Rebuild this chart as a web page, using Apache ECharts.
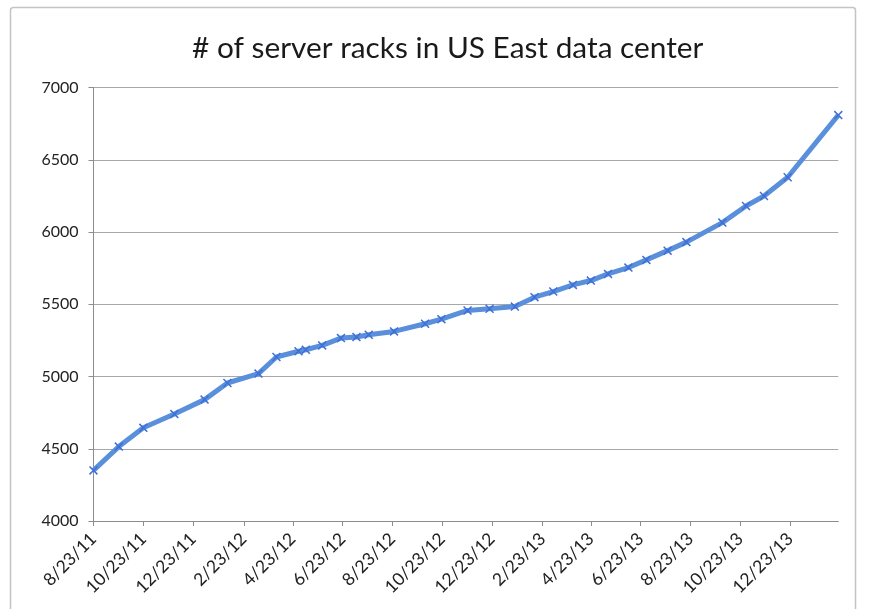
<!DOCTYPE html>
<html>
<head>
<meta charset="utf-8">
<script src="https://cdn.jsdelivr.net/npm/echarts@6/dist/echarts.min.js"></script>
<style>
  html, body { margin: 0; padding: 0; background: #fff; }
  #chart { width: 869px; height: 609px; }
</style>
</head>
<body>
<div id="chart"></div>
<script>
// Survey dates (M/D/YY) and rack counts
const surveyDates = [
  '8/23/11', '9/23/11', '10/23/11', '11/30/11', '1/6/12', '2/3/12', '3/12/12',
  '4/3/12', '4/30/12', '5/9/12', '5/29/12', '6/21/12', '7/10/12', '7/25/12',
  '8/25/12', '10/2/12', '10/22/12', '11/23/12', '12/20/12', '1/20/13', '2/13/13',
  '3/8/13', '4/1/13', '4/23/13', '5/14/13', '6/8/13', '6/30/13', '7/26/13',
  '8/18/13', '10/1/13', '10/30/13', '11/21/13', '12/20/13', '2/20/14'
];
const serverRacks = [
  4350, 4515, 4645, 4740, 4840, 4955, 5020,
  5135, 5175, 5185, 5215, 5266, 5273, 5289,
  5312, 5365, 5397, 5457, 5469, 5484, 5549,
  5588, 5634, 5664, 5710, 5754, 5807, 5871,
  5930, 6065, 6180, 6249, 6379, 6809
];
// Date axis tick labels, every two months
const tickLabels = [
  '8/23/11', '10/23/11', '12/23/11', '2/23/12', '4/23/12', '6/23/12', '8/23/12',
  '10/23/12', '12/23/12', '2/23/13', '4/23/13', '6/23/13', '8/23/13', '10/23/13',
  '12/23/13'
];
const axisStart = '8/23/11';
const axisEnd = '2/20/14';

// Day number (days since epoch) for a M/D/YY string
function dayOf(s) {
  const [m, d, y] = s.split('/').map(Number);
  return Math.round(Date.UTC(2000 + y, m - 1, d) / 86400000);
}
const tickValues = tickLabels.map(dayOf);
const seriesData = surveyDates.map((s, i) => [dayOf(s), serverRacks[i]]);

const FONT = 'Lato, "Open Sans", sans-serif';
const crossMark = 'path://M0,1.2 L1.2,0 L5,3.8 L8.8,0 L10,1.2 L6.2,5 L10,8.8 L8.8,10 L5,6.2 L1.2,10 L0,8.8 L3.8,5 Z';

const chart = echarts.init(document.getElementById('chart'), null, { renderer: 'canvas' });
chart.setOption({
  backgroundColor: '#ffffff',
  animation: false,
  graphic: [{
    type: 'rect',
    shape: { x: 10.5, y: 7.5, width: 845, height: 640, r: 3 },
    style: { fill: 'none', stroke: '#c4c4c4', lineWidth: 1.5 },
    z: -10
  }],
  title: {
    text: '# of server racks in US East data center',
    left: 192,
    top: 33,
    padding: 0,
    textStyle: { fontFamily: FONT, fontSize: 29.8, fontWeight: 'normal', color: '#1a1a1a' }
  },
  grid: { left: 93.5, right: 30.7, top: 87.5, bottom: 88, containLabel: false },
  xAxis: {
    type: 'value',
    min: dayOf(axisStart),
    max: dayOf(axisEnd),
    axisLine: { lineStyle: { color: '#8c8c8c', width: 1 } },
    axisTick: { show: true, length: 5, customValues: tickValues, lineStyle: { color: '#8c8c8c' } },
    axisLabel: {
      customValues: tickValues,
      rotate: 45,
      margin: 15,
      formatter: (v) => tickLabels[tickValues.indexOf(v)] || '',
      fontFamily: FONT,
      fontSize: 17.5,
      color: '#222'
    },
    splitLine: { show: false }
  },
  yAxis: {
    type: 'value',
    min: 4000,
    max: 7000,
    interval: 500,
    axisLine: { show: true, lineStyle: { color: '#8c8c8c', width: 1 } },
    axisTick: { show: true, length: 5, lineStyle: { color: '#8c8c8c' } },
    axisLabel: {
      formatter: (v) => String(v),
      fontFamily: FONT, fontSize: 16, color: '#222', margin: 15
    },
    splitLine: { show: true, lineStyle: { color: '#a8a8a8', width: 1.2 } }
  },
  series: [{
    type: 'line',
    data: seriesData,
    smooth: false,
    lineStyle: { color: '#5a90db', width: 5 },
    symbol: crossMark,
    symbolSize: 9,
    itemStyle: { color: '#3f6fd8' },
    z: 3
  }]
});
</script>
</body>
</html>
